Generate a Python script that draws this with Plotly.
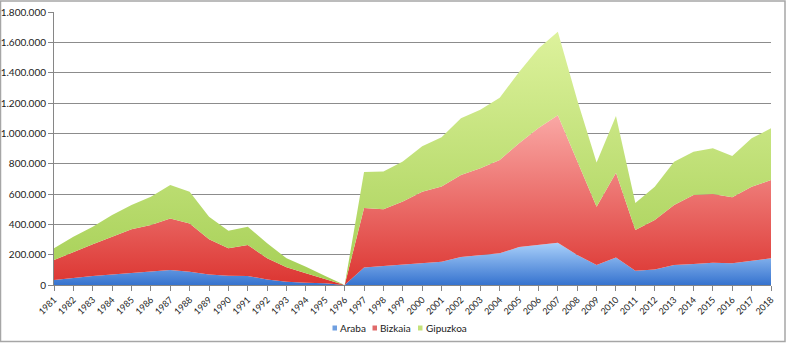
import plotly.graph_objects as go

years = list(range(1981, 2019))

araba = [33000, 48000, 59000, 70000, 81000, 92000, 99000, 88000, 70000, 61000,
         59000, 37000, 22000, 15000, 11000, 0, 115000, 125000, 136000, 145000,
         154000, 185000, 198000, 209000, 250000, 264000, 279000, 198000, 132000, 182000,
         94000, 103000, 132000, 138000, 147000, 143000, 158000, 176000]

bizkaia = [132000, 171000, 209000, 248000, 286000, 303000, 340000, 318000, 231000, 181000,
           205000, 139000, 95000, 62000, 26000, 0, 393000, 375000, 414000, 470000,
           496000, 540000, 572000, 616000, 685000, 771000, 841000, 617000, 384000, 558000,
           268000, 325000, 395000, 455000, 453000, 435000, 490000, 516000]

gipuzkoa = [77000, 99000, 116000, 143000, 160000, 187000, 221000, 209000, 149000, 116000,
            120000, 99000, 59000, 44000, 22000, 0, 237000, 248000, 265000, 300000,
            325000, 375000, 385000, 410000, 470000, 525000, 550000, 405000, 292000, 374000,
            178000, 220000, 286000, 286000, 301000, 272000, 319000, 341000]

y_ticks = [0, 200000, 400000, 600000, 800000, 1000000, 1200000, 1400000, 1600000, 1800000]

series = [
    ("Araba", araba, "#3673cf", "#a9d0fa", "#6f9fe0"),
    ("Bizkaia", bizkaia, "#dc3531", "#faa8a5", "#e06a6a"),
    ("Gipuzkoa", gipuzkoa, "#a5cf55", "#ddf29c", "#c4e27a"),
]

fig = go.Figure()
running = [0] * len(years)
for name, vals, dark, light, mid in series:
    running = [a + b for a, b in zip(running, vals)]
    top = max(running)
    fig.add_trace(go.Scatter(
        x=years, y=vals, name=name, mode="lines",
        stackgroup="one", showlegend=False,
        line=dict(width=0, color=mid),
        fillcolor=mid,
        fillgradient=dict(type="vertical", start=0, stop=top,
                          colorscale=[[0, dark], [1, light]]),
    ))

# chart-area frame and plot geometry in pixels
L, R, T, B = 54, 771, 12, 285
W, H = R - L, B - T
def px(x):
    return (x - L) / W
def py(y):
    return (B - y) / H

fig.add_shape(type="rect", xref="paper", yref="paper",
              x0=px(0.5), x1=px(785), y0=py(341.5), y1=py(1),
              line=dict(color="#a6a6a6", width=1.5), layer="below")

# compact legend: small swatch followed by the series name
legend_x = [332.5, 372.5, 418]
legend_y = 328
for (name, vals, dark, light, mid), lx in zip(series, legend_x):
    fig.add_shape(type="rect", xref="paper", yref="paper",
                  x0=px(lx), x1=px(lx + 4.5), y0=py(legend_y + 2.5), y1=py(legend_y - 2.5),
                  line=dict(width=0), fillcolor=mid)
    fig.add_annotation(xref="paper", yref="paper", x=px(lx + 5.5), y=py(legend_y),
                       text=name, showarrow=False, xanchor="left", yanchor="middle",
                       font=dict(size=10, color="#222222"))

fig.update_layout(
    width=790, height=344,
    margin=dict(l=L, r=790 - R, t=T, b=344 - B, autoexpand=False),
    paper_bgcolor="white", plot_bgcolor="white",
    separators=",.",
    font=dict(family="Lato, Liberation Sans, sans-serif", size=10, color="#222222"),
    showlegend=False,
    xaxis=dict(
        range=[1981, 2018], tickmode="array", tickvals=years,
        ticktext=[str(y) for y in years], tickangle=-45,
        tickfont=dict(size=9), automargin=False,
        showgrid=False, showline=True, linecolor="#868686", linewidth=1,
        ticks="outside", ticklen=5, tickcolor="#868686", zeroline=False,
    ),
    yaxis=dict(
        range=[0, 1800000], tickmode="array", tickvals=y_ticks,
        tickformat=",d", tickfont=dict(size=10), automargin=False,
        showgrid=True, gridcolor="#8c8c8c", gridwidth=1,
        showline=True, linecolor="#868686", linewidth=1,
        ticks="outside", ticklen=5, tickcolor="#868686", zeroline=False,
    ),
)

fig.write_html("out.html")
